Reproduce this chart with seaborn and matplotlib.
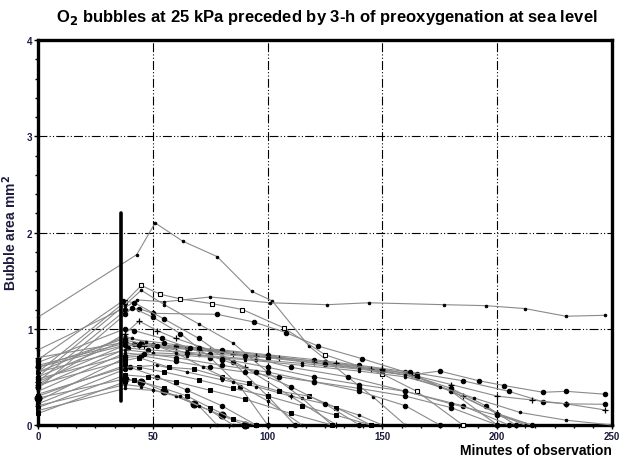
import matplotlib
matplotlib.use("Agg")
import matplotlib.pyplot as plt
import seaborn as sns
import numpy as np

# Each subject: observation times (min), bubble areas (mm2), marker
t01 = [0, 43, 51, 63, 78, 93, 102, 118, 146, 160]
a01 = [1.12, 1.77, 2.10, 1.91, 1.75, 1.39, 1.29, 0.82, 0.29, 0.0]
t02 = [0, 38, 43, 55, 75, 101, 126, 144, 177, 195, 212, 230, 247]
a02 = [0.78, 1.22, 1.30, 1.28, 1.33, 1.27, 1.25, 1.27, 1.25, 1.24, 1.21, 1.13, 1.14]
t03 = [0, 38, 45, 53, 62, 76, 89, 107, 125, 150, 165, 185]
a03 = [0.55, 1.28, 1.45, 1.36, 1.31, 1.26, 1.20, 1.01, 0.73, 0.53, 0.35, 0.0]
t04 = [0, 38, 44, 50, 78, 94, 108, 122, 141, 160, 180, 200]
a04 = [0.45, 1.19, 1.21, 1.16, 1.15, 1.07, 0.96, 0.82, 0.69, 0.55, 0.35, 0.0]
t05 = [0, 38, 45, 55, 70, 85, 100, 115, 128]
a05 = [0.50, 1.25, 1.40, 1.25, 1.05, 0.85, 0.55, 0.28, 0.0]
t06 = [0, 38, 44, 52, 60, 75, 90, 110, 130]
a06 = [0.42, 0.95, 1.08, 0.98, 0.90, 0.78, 0.60, 0.30, 0.0]
t07 = [0, 38, 41, 50, 62, 75, 88, 100]
a07 = [0.38, 1.15, 1.22, 1.12, 0.95, 0.70, 0.40, 0.0]
t08 = [0, 37, 42, 55, 70, 85, 100, 112]
a08 = [0.68, 1.29, 1.27, 1.10, 0.90, 0.65, 0.30, 0.0]
t09 = [0, 38, 42, 50, 65, 80, 100, 125, 150, 165, 175, 192, 203, 220, 230, 247]
a09 = [0.62, 0.85, 0.84, 0.83, 0.80, 0.77, 0.72, 0.65, 0.57, 0.53, 0.56, 0.46, 0.41, 0.34, 0.35, 0.32]
t10 = [0, 38, 45, 60, 80, 100, 120, 140, 162, 185, 205, 220, 230, 247]
a10 = [0.50, 0.88, 0.85, 0.82, 0.78, 0.73, 0.68, 0.62, 0.55, 0.46, 0.35, 0.24, 0.22, 0.215]
t11 = [0, 38, 44, 60, 85, 105, 130, 150, 163, 180, 200, 215, 230, 247]
a11 = [0.45, 0.83, 0.82, 0.80, 0.74, 0.70, 0.64, 0.58, 0.52, 0.42, 0.30, 0.26, 0.22, 0.156]
t12 = [0, 38, 46, 70, 95, 120, 145, 165, 185, 200, 212]
a12 = [0.70, 0.86, 0.82, 0.78, 0.72, 0.65, 0.58, 0.50, 0.30, 0.12, 0.0]
t13 = [0, 39, 48, 75, 100, 125, 150, 165, 180, 195, 208]
a13 = [0.40, 0.80, 0.78, 0.74, 0.70, 0.63, 0.56, 0.50, 0.38, 0.20, 0.0]
t14 = [0, 38, 50, 70, 95, 115, 140, 160, 180, 200, 215]
a14 = [0.55, 0.78, 0.75, 0.73, 0.68, 0.64, 0.58, 0.52, 0.35, 0.12, 0.0]
t15 = [0, 38, 45, 65, 90, 115, 140, 160, 175, 190, 210, 230, 250]
a15 = [0.35, 0.75, 0.73, 0.72, 0.68, 0.62, 0.56, 0.50, 0.40, 0.28, 0.13, 0.05, 0.0]
t16 = [0, 38, 45, 60, 75, 90, 105, 120, 140, 160, 180, 200]
a16 = [0.25, 0.70, 0.72, 0.66, 0.60, 0.55, 0.50, 0.45, 0.38, 0.30, 0.18, 0.0]
t17 = [0, 38, 44, 55, 70, 85, 100, 115, 130, 145]
a17 = [0.30, 0.62, 0.60, 0.55, 0.47, 0.38, 0.30, 0.20, 0.10, 0.0]
t18 = [0, 38, 40, 52, 65, 80, 95]
a18 = [0.22, 0.58, 0.60, 0.50, 0.36, 0.20, 0.0]
t19 = [0, 38, 48, 60, 75, 90, 110, 128]
a19 = [0.18, 0.52, 0.50, 0.45, 0.36, 0.27, 0.12, 0.0]
t20 = [0, 38, 45, 55, 68, 80, 90]
a20 = [0.28, 0.48, 0.45, 0.35, 0.22, 0.10, 0.0]
t21 = [0, 38, 42, 55, 65, 75, 85, 95]
a21 = [0.12, 0.45, 0.47, 0.38, 0.30, 0.18, 0.06, 0.0]
t22 = [0, 38, 52, 65, 80, 95, 110, 125, 140, 150]
a22 = [0.32, 0.60, 0.62, 0.55, 0.47, 0.40, 0.30, 0.22, 0.10, 0.0]
t23 = [0, 38, 45, 60, 75, 85]
a23 = [0.20, 0.42, 0.40, 0.30, 0.15, 0.0]
t24 = [0, 38, 50, 62, 70, 78]
a24 = [0.15, 0.38, 0.36, 0.30, 0.20, 0.0]
t25 = [0, 38, 44, 57, 68, 80, 92, 105, 118, 130, 145]
a25 = [0.42, 0.67, 0.70, 0.60, 0.58, 0.50, 0.44, 0.35, 0.30, 0.18, 0.0]
t26 = [0, 38, 46, 60, 80, 100, 120, 140, 160, 175]
a26 = [0.48, 0.72, 0.74, 0.70, 0.62, 0.55, 0.45, 0.35, 0.20, 0.0]
t27 = [0, 38, 55, 70, 90, 110, 135, 160, 185, 205]
a27 = [0.60, 0.90, 0.85, 0.80, 0.72, 0.60, 0.50, 0.35, 0.20, 0.0]
t28 = [0, 38, 42, 54, 66, 80, 95, 110, 125, 140]
a28 = [0.65, 1.00, 0.98, 0.90, 0.80, 0.68, 0.55, 0.40, 0.22, 0.0]
t29 = [0, 38, 41, 47, 60, 72, 85, 100, 115]
a29 = [0.55, 0.92, 0.90, 0.86, 0.75, 0.60, 0.45, 0.25, 0.0]
t30 = [0, 38, 44, 52, 65, 80, 100, 120, 140, 160, 180, 200, 215]
a30 = [0.60, 0.83, 0.83, 0.82, 0.75, 0.69, 0.60, 0.50, 0.42, 0.35, 0.22, 0.10, 0.0]

times = [t01, t02, t03, t04, t05, t06, t07, t08, t09, t10, t11, t12, t13, t14, t15,
         t16, t17, t18, t19, t20, t21, t22, t23, t24, t25, t26, t27, t28, t29, t30]
areas = [a01, a02, a03, a04, a05, a06, a07, a08, a09, a10, a11, a12, a13, a14, a15,
         a16, a17, a18, a19, a20, a21, a22, a23, a24, a25, a26, a27, a28, a29, a30]
markers = [".", ".", "sq", "o", ".", "+", "o", "o", "o", "o", "+", "+", "o", ".", ".",
           "o", "s", "o", "s", "O", "s", ".", ".", ".", "s", "o", "o", "o", ".", "o"]

# start of decompression marker
bar_time = 36
bar_range = [0.25, 2.2]

sns.set_style("ticks")
plt.rcParams["font.family"] = ["Liberation Sans", "DejaVu Sans"]
navy = "#1c1c3c"

fig = plt.figure(figsize=(6.21, 4.64), dpi=100)
ax = fig.add_axes([0.0612, 0.0819, 0.9243, 0.8297])

for t, a, m in zip(times, areas, markers):
    kw = dict(marker="o", markersize=3.2, markerfacecolor="black", markeredgecolor="black")
    if m == ".":
        kw.update(marker="o", markersize=1.8)
    elif m == "O":
        kw.update(marker="o", markersize=5)
    elif m == "s":
        kw.update(marker="s", markersize=3.2)
    elif m == "sq":
        kw.update(marker="s", markersize=3.5, markerfacecolor="white", markeredgewidth=0.8)
    elif m == "+":
        kw.update(marker="+", markersize=4, markeredgewidth=0.9)
    sns.lineplot(x=t, y=a, ax=ax, color="#8a8a8a", linewidth=0.8, sort=False,
                 estimator=None, legend=False, clip_on=False, **kw)

ax.plot([bar_time, bar_time], bar_range, color="black", linewidth=2.6)

ax.set_xlim(0, 250)
ax.set_ylim(0, 4)
ax.set_xticks([0, 50, 100, 150, 200, 250])
ax.set_yticks([0, 1, 2, 3, 4])
ax.set_xticks(np.arange(0, 251, 50 / 6), minor=True)
ax.set_yticks(np.arange(0, 4.01, 0.2), minor=True)
ax.grid(True, which="major", color="black", linewidth=0.8,
        linestyle=(0, (8, 2, 1, 2, 1, 2)))
for s in ax.spines.values():
    s.set_linewidth(2.4)
    s.set_color("black")
    s.set_zorder(1.5)
ax.tick_params(which="major", length=3, width=1, colors="black", labelsize=7, pad=1)
ax.tick_params(which="minor", length=2, width=1, colors="black")
for lab in ax.get_xticklabels() + ax.get_yticklabels():
    lab.set_fontweight("bold")
    lab.set_color(navy)

ax.set_xlabel("")
ax.set_ylabel("Bubble area mm$^{\\mathbf{2}}$", fontsize=10, fontweight="bold",
              color=navy, labelpad=6)
fig.text(0.985, 0.012, "Minutes of observation", ha="right", va="bottom",
         fontsize=10, fontweight="bold", color="black")
fig.text(0.527, 0.9526, "O$_\\mathbf{2}$ bubbles at 25 kPa preceded by 3-h of preoxygenation at sea level",
         ha="center", va="baseline", fontsize=12, fontweight="bold", color="black")

fig.savefig("out.png", dpi=100)
